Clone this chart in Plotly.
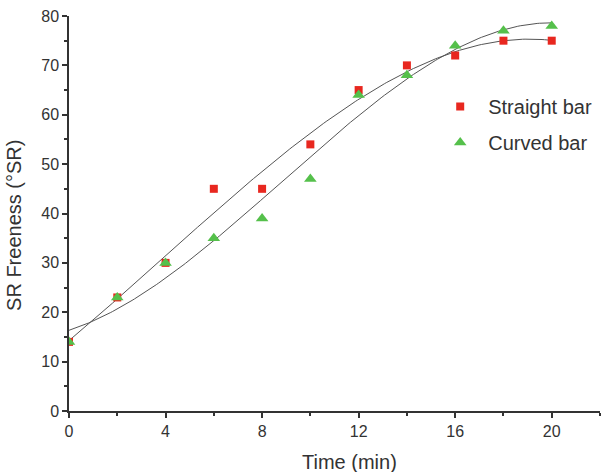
import numpy as np
import plotly.graph_objects as go

time_min = [0, 2, 4, 6, 8, 10, 12, 14, 16, 18, 20]
straight_bar = [14, 23, 30, 45, 45, 54, 65, 70, 72, 75, 75]
curved_bar = [14, 23, 30, 35, 39, 47, 64, 68, 74, 77, 78]

RED = "#e8271f"
GREEN = "#55c04b"
LINE = "#555555"
TXT = "#333333"

fig = go.Figure()

xs = np.linspace(0, 20, 200)
for ys in (straight_bar, curved_bar):
    c = np.polyfit(time_min, ys, 3)
    fig.add_trace(go.Scatter(x=xs, y=np.polyval(c, xs), mode="lines",
                             line=dict(color=LINE, width=1), showlegend=False,
                             hoverinfo="skip"))

fig.add_trace(go.Scatter(x=time_min, y=straight_bar, mode="markers", name="Straight bar",
                         marker=dict(symbol="square", size=8, color=RED),
                         legendgroup="a"))
fig.add_trace(go.Scatter(x=time_min, y=curved_bar, mode="markers", name="Curved bar",
                         marker=dict(symbol="triangle-up", size=11, color=GREEN),
                         legendgroup="b"))

axis_common = dict(showline=True, linecolor=TXT, linewidth=1.5, ticks="outside",
                   ticklen=5, tickwidth=1.5, tickcolor=TXT, showgrid=False,
                   zeroline=False, tickfont=dict(size=16, color=TXT))

fig.update_xaxes(range=[0, 22], tickvals=[0, 4, 8, 12, 16, 20],
                 minor=dict(tickvals=[2, 6, 10, 14, 18, 22], ticklen=3, tickwidth=1.5,
                            tickcolor=TXT, ticks="outside"),
                 **axis_common)
fig.update_yaxes(range=[0, 80], tickvals=list(range(0, 81, 10)),
                 minor=dict(tickvals=list(range(5, 80, 10)), ticklen=3, tickwidth=1.5,
                            tickcolor=TXT, ticks="outside"),
                 **axis_common)

fig.add_annotation(text="Time (min)", xref="paper", yref="paper", x=0.529, y=-0.129,
                   xanchor="center", yanchor="middle", showarrow=False,
                   font=dict(size=20, color=TXT))
fig.add_annotation(text="SR Freeness (°SR)", xref="paper", yref="paper", x=-0.1036, y=0.471,
                   xanchor="center", yanchor="middle", showarrow=False, textangle=-90,
                   font=dict(size=20, color=TXT))

fig.update_layout(
    width=608, height=472,
    margin=dict(l=69, r=8, t=16, b=61),
    paper_bgcolor="white", plot_bgcolor="white",
    font=dict(family="Liberation Sans, Arial, sans-serif", color=TXT),
    legend=dict(x=0.684, y=0.82, xanchor="left", yanchor="top", itemwidth=46,
                font=dict(size=20, color=TXT), tracegroupgap=7,
                bgcolor="rgba(0,0,0,0)"),
)

fig.write_html("out.html")
